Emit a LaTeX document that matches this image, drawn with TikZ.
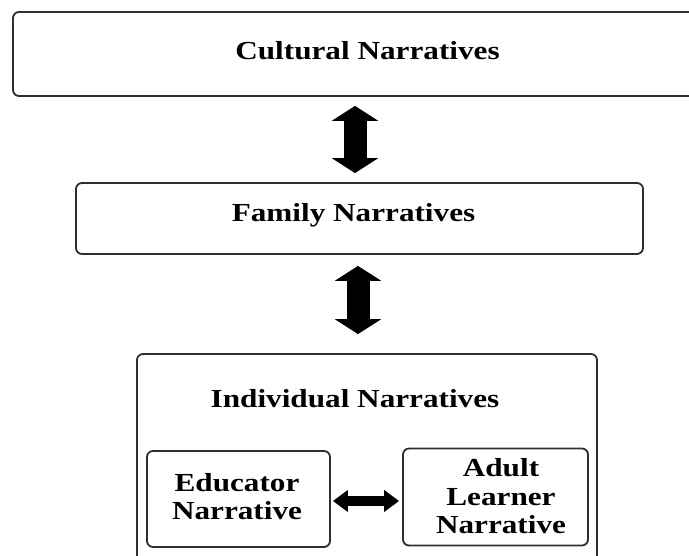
\documentclass[tikz,border=0pt]{standalone}
\usepackage{fontspec}
\setmainfont{Liberation Serif}[FakeStretch=1.2]
\usetikzlibrary{arrows.meta}
\definecolor{boxline}{HTML}{2E2E2E}
\tikzset{
  x=1pt, y=1pt,
  nbox/.style={draw=boxline, line width=1.8pt, rounded corners=6pt, fill=white, inner sep=0pt},
  ntext/.style={font=\bfseries\fontsize{26}{27.5}\selectfont, inner sep=0pt, text=black},
  varrow/.style={line width=23pt, {Triangle[width=46pt,length=15pt]}-{Triangle[width=46pt,length=15pt]}},
  harrow/.style={line width=10pt, {Triangle[width=21pt,length=15pt]}-{Triangle[width=21pt,length=15pt]}}
}
\begin{document}
\begin{tikzpicture}
\clip (0,0) rectangle (689,556);
\fill[white] (0,0) rectangle (689,556);
% boxes
\node[nbox, minimum width=709pt, minimum height=84pt] (cult) at (367.5,502) {};
\node[nbox, minimum width=567pt, minimum height=71pt] (fam) at (359.5,337.5) {};
\node[nbox, minimum width=460pt, minimum height=262pt] (ind) at (367,71) {};
\node[nbox, minimum width=183pt, minimum height=96pt] (edu) at (238.5,57) {};
\node[nbox, minimum width=185pt, minimum height=97pt] (adu) at (495.5,59) {};
% texts
\node[ntext, anchor=base] (cultt) at (367.5,496) {Cultural Narratives};
\node[ntext, anchor=base] (famt) at (353.5,334.5) {Family Narratives};
\node[ntext, anchor=base] (indt) at (355,148) {Individual Narratives};
\node[ntext, align=center] (edut) at (237,59.5) {Educator\\Narrative};
\node[ntext, align=center, font=\bfseries\fontsize{26}{28.5}\selectfont] (adut) at (501,59.5) {Adult\\Learner\\Narrative};
% connectors
\coordinate (ax1) at (355,0);
\coordinate (ax2) at (358,0);
\coordinate (hy) at (0,55);
\draw[varrow] ([yshift=-9pt]ax1 |- cult.south) -- ([yshift=9pt]ax1 |- fam.north);
\draw[varrow] ([yshift=-11pt]ax2 |- fam.south) -- ([yshift=19pt]ax2 |- ind.north);
\draw[harrow] ([xshift=2pt]edu.east |- hy) -- ([xshift=-3pt]adu.west |- hy);
\end{tikzpicture}
\end{document}
